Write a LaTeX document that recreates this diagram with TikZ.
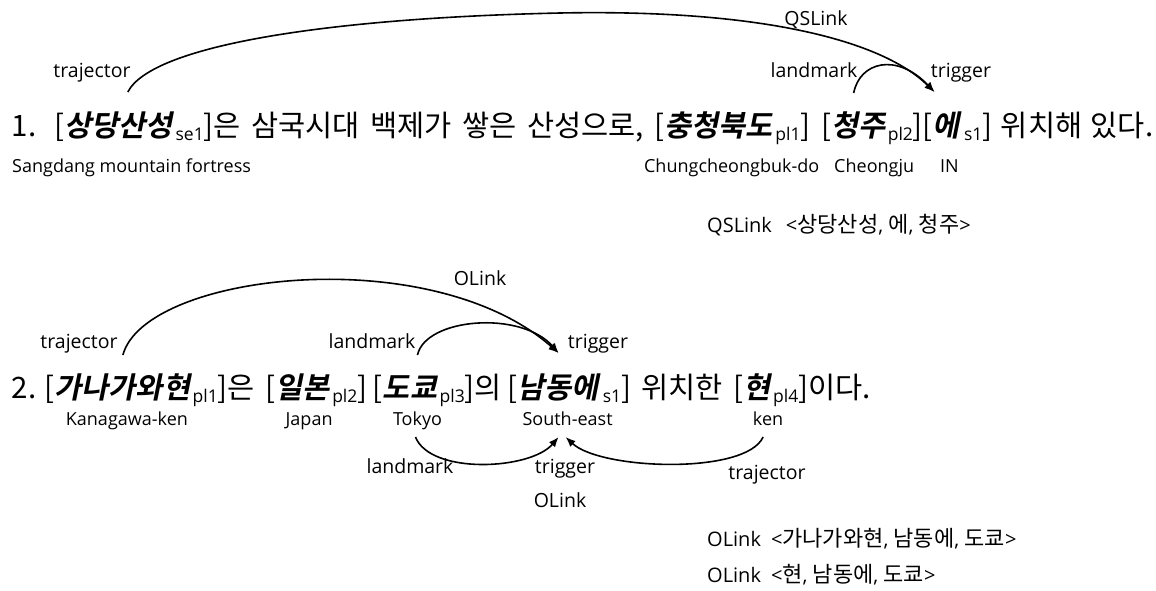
\documentclass[tikz,border=0pt]{standalone}
\usepackage{fontspec}
\setmainfont{Open Sans}
\newfontfamily\krfont{Noto Sans CJK KR}
\newfontfamily\krbifont{Noto Sans CJK KR Bold}[FakeSlant=0.2]
\usetikzlibrary{arrows.meta}
\newcommand\sentfont{\krfont\fontsize{29.5}{32}\selectfont}
\newcommand\wordfont{\krbifont\fontsize{29.5}{32}\selectfont}
\newcommand\subfont{\fontsize{17.5}{20}\selectfont}
\newcommand\labfont{\fontsize{19.5}{22}\selectfont}
\newcommand\glossfont{\fontsize{18}{20}\selectfont}
\newcommand\botfont{\fontsize{20}{22}\selectfont}
\newcommand\botkr{\krfont\fontsize{22}{24}\selectfont}
\newcommand\ws{\hspace{10.5pt}}
\newcommand\wsn{\hspace{5.5pt}}
\newcommand\wse{\hspace{8.5pt}}
\begin{document}
\begin{tikzpicture}[x=1pt,y=-1pt,
  seg/.style={inner sep=0pt, outer sep=0pt, anchor=base west, font=\sentfont},
  word/.style={seg, font=\wordfont},
  subs/.style={seg, font=\subfont, yshift=-4pt, xshift=2.5pt},
  lab/.style={inner sep=0pt, anchor=base, font=\labfont},
  gloss/.style={inner sep=0pt, anchor=base, font=\glossfont},
  bot/.style={inner sep=0pt, anchor=base west, font=\botfont},
  link/.style={line width=1.6pt, -{Latex[length=10pt,width=8pt]}}]
\useasboundingbox (0,0) rectangle (1156,590);
% ---- sentence 1
\node[seg] (a1) at (12,136) {1.\hspace{18pt}[};
\node[word] (w1) at (a1.base east) {상당산성};
\node[subs] (w1s) at (w1.base east) {se1};
\node[seg] (b1) at (w1s.base east |- w1.base) {]은\ws 삼국시대\ws 백제가\ws 쌓은\ws 산성으로,\ws [};
\node[word] (w2) at (b1.base east) {충청북도};
\node[subs] (w2s) at (w2.base east) {pl1};
\node[seg] (c1) at (w2s.base east |- w2.base) {]\ws [};
\node[word] (w3) at (c1.base east) {청주};
\node[subs] (w3s) at (w3.base east) {pl2};
\node[seg] (d1) at (w3s.base east |- w3.base) {][};
\node[word] (w4) at (d1.base east) {에};
\node[subs, xshift=1.5pt] (w4s) at (w4.base east) {s1};
\node[seg] (e1) at (w4s.base east |- w4.base) {]\wse 위치해\wse 있다.};
% glosses 1
\node[gloss, anchor=base west] (g1a) at ([yshift=-36pt]a1.base west) {Sangdang mountain fortress};
\node[gloss] (g1b) at ([xshift=13pt,yshift=-36pt]w2.base) {Chungcheongbuk-do};
\node[gloss] (g1c) at ([xshift=16pt,yshift=-36pt]w3.base) {Cheongju};
\node[gloss] (g1d) at ([xshift=3pt,yshift=-36pt]w4.base) {IN};
% labels 1
\node[lab] (t1) at (92,77) {trajector};
\node[lab] (q1) at (816,25) {QSLink};
\node[lab] (m1) at (814,77) {landmark};
\node[lab] (k1) at (961,77) {trigger};
% arcs 1
\coordinate (p1) at ([xshift=9pt,yshift=44pt]w1.base);
\coordinate (p2) at ([xshift=-12pt,yshift=44pt]w4.base);
\coordinate (p3) at ([xshift=-4.5pt,yshift=43pt]w3.base);
\coordinate (pm) at (560,13);
\draw[link] (p1) .. controls +(24,-47) and +(-230,5) .. (pm) .. controls +(200,-4) and +(-53,-52) .. (p2);
\draw[link] (p3) .. controls +(6,-31) and +(-38,-40) .. (p2);
% ---- sentence 2
\node[seg] (a2) at (12,398) {2.\hspace{8pt}[};
\node[word] (v1) at (a2.base east) {가나가와현};
\node[subs] (v1s) at (v1.base east) {pl1};
\node[seg] (b2) at (v1s.base east |- v1.base) {]은\ws [};
\node[word] (v2) at (b2.base east) {일본};
\node[subs] (v2s) at (v2.base east) {pl2};
\node[seg] (c2) at (v2s.base east |- v2.base) {]\wsn [};
\node[word] (v3) at (c2.base east) {도쿄};
\node[subs] (v3s) at (v3.base east) {pl3};
\node[seg] (d2) at (v3s.base east |- v3.base) {]의\wsn [};
\node[word] (v4) at (d2.base east) {남동에};
\node[subs, xshift=1.5pt] (v4s) at (v4.base east) {s1};
\node[seg] (e2) at (v4s.base east |- v4.base) {]\ws 위치한\ws [};
\node[word] (v5) at (e2.base east) {현};
\node[subs] (v5s) at (v5.base east) {pl4};
\node[seg] (f2) at (v5s.base east |- v5.base) {]이다.};
% glosses 2
\node[gloss] (g2a) at ([xshift=4.5pt,yshift=-27pt]v1.base) {Kanagawa-ken};
\node[gloss] (g2b) at ([xshift=6.5pt,yshift=-27pt]v2.base) {Japan};
\node[gloss] (g2c) at ([xshift=7.5pt,yshift=-27pt]v3.base) {Tokyo};
\node[gloss] (g2d) at ([xshift=9.5pt,yshift=-27pt]v4.base) {South-east};
\node[gloss] (g2e) at ([xshift=11pt,yshift=-27pt]v5.base) {ken};
% labels 2
\node[lab] (t2) at (79,348) {trajector};
\node[lab] (m2) at (372,348) {landmark};
\node[lab] (k2) at (598,348) {trigger};
\node[lab] (o2l) at (480,285) {OLink};
\node[lab] (m3) at (410,473) {landmark};
\node[lab] (k3) at (565,473) {trigger};
\node[lab] (o3l) at (560,507) {OLink};
\node[lab] (t3) at (767,479) {trajector};
% arcs 2
\coordinate (o1) at ([xshift=0.5pt,yshift=43pt]v1.base);
\coordinate (o2) at ([xshift=0.5pt,yshift=45pt]v4.base);
\coordinate (o3) at ([xshift=7.5pt,yshift=43pt]v3.base);
\draw[link] (o1) .. controls +(22,-82) and +(-128,-113) .. (o2);
\draw[link] (o3) .. controls +(8,-37) and +(-38,-43) .. (o2);
\coordinate (u1) at ([xshift=-2pt,yshift=-12pt]g2c.base);
\coordinate (u2) at ([xshift=-9pt,yshift=-12pt]g2d.base);
\coordinate (u3) at ([xshift=-2pt,yshift=-12pt]g2d.base);
\coordinate (u4) at ([xshift=-5pt,yshift=-12pt]g2e.base);
\draw[link] (u1) .. controls +(15,38) and +(-28,33) .. (u2);
\draw[link] (u4) .. controls +(-17,38) and +(35,33) .. (u3);
% ---- summary rows
\node[bot] (s1) at (707,232) {QSLink\hspace{14pt}<{\botkr 상당산성}, {\botkr 에}, {\botkr 청주}>};
\node[bot] (s2) at (707,546) {OLink\hspace{10pt}<{\botkr 가나가와현}, {\botkr 남동에}, {\botkr 도쿄}>};
\node[bot] (s3) at (707,582) {OLink\hspace{10pt}<{\botkr 현}, {\botkr 남동에}, {\botkr 도쿄}>};
\end{tikzpicture}
\end{document}
